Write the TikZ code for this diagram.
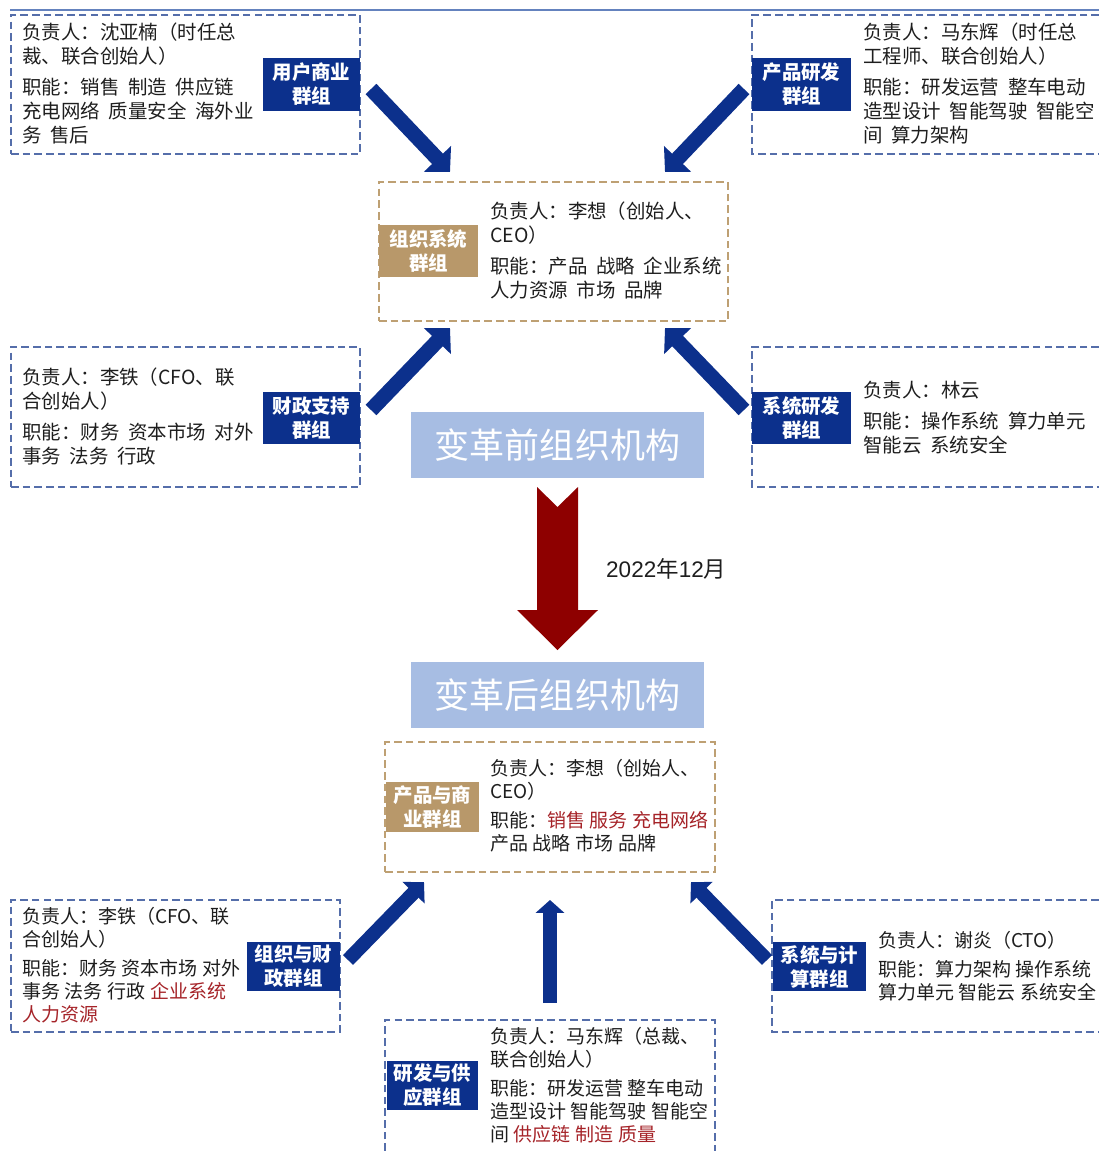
\documentclass[tikz,border=0pt]{standalone}
\usepackage{fontspec}
\setmainfont{Noto Sans CJK SC}[WordSpace=2.0]
\newfontfamily\cjkB{Noto Sans CJK SC}[WordSpace=1.1]
\newfontfamily\latinsans{Liberation Sans}
\usetikzlibrary{arrows.meta}
\definecolor{labelblue}{RGB}{12,48,140}
\definecolor{dashblue}{RGB}{85,110,170}
\definecolor{tanfill}{RGB}{184,152,106}
\definecolor{tandash}{RGB}{190,160,115}
\definecolor{titleblue}{RGB}{167,189,227}
\definecolor{arrowred}{RGB}{142,0,0}
\definecolor{txtred}{RGB}{165,35,40}
\definecolor{lineblue}{RGB}{100,130,190}
\definecolor{txt}{RGB}{30,30,30}
\newcommand\bodyfontA{\fontsize{16.6pt}{20.5pt}\selectfont}
\newcommand\bodyfontB{\cjkB\fontsize{16.2pt}{19.6pt}\selectfont}
\newcommand\hl[1]{\textcolor{txtred}{#1}}
\begin{document}
\begin{tikzpicture}[x=0.03cm, y=-0.03cm,
  bluebox/.style={draw=dashblue, dash pattern=on 6.5pt off 3.5pt, line width=1.1pt, inner sep=0pt},
  tanbox/.style={draw=tandash, dash pattern=on 6.5pt off 3.5pt, line width=1.1pt, inner sep=0pt},
  grouplabel/.style={fill=labelblue, text=white, font=\fontsize{16.6pt}{20.5pt}\selectfont\bfseries, align=center, inner sep=0pt},
  tanlabel/.style={grouplabel, fill=tanfill},
  bodytext/.style={anchor=north west, inner sep=0pt, align=left, font=\bodyfontA, text=txt},
  bodytextB/.style={bodytext, font=\bodyfontB},
  titlebox/.style={fill=titleblue, text=white, minimum width=293*0.03cm, minimum height=66*0.03cm, inner sep=0pt, font=\fontsize{29.9pt}{32pt}\selectfont},
  bigarrow/.style={draw=labelblue, line width=12.8pt, -{Triangle[width=31pt,length=15.5pt]}},
  smallarrow/.style={draw=labelblue, line width=12pt, -{Triangle[width=25.6pt,length=12.8pt]}},
  uparrow/.style={draw=labelblue, line width=12pt, -{Triangle[width=24pt,length=11pt]}}
]
\useasboundingbox (0,0) rectangle (1099,1151);
% top rule
\coordinate (ruleL) at (10,10);
\coordinate (ruleR) at (1099,10);
\draw[lineblue, line width=1.7pt] (ruleL) -- (ruleR);

% ---------- before ----------
\node[bluebox, minimum width=349*0.03cm, minimum height=139*0.03cm] (boxTL) at (185.5,84.5) {};
\draw[bluebox] (1099,15) -| (752,154) -- (1099,154);
\node[tanbox, minimum width=349*0.03cm, minimum height=139*0.03cm] (boxCT) at (553.5,251.5) {};
\node[bluebox, minimum width=349*0.03cm, minimum height=140*0.03cm] (boxML) at (185.5,417) {};
\draw[bluebox] (1099,347) -| (752,487) -- (1099,487);

\node[grouplabel, minimum width=97*0.03cm, minimum height=53*0.03cm] (labTL) at (311.5,84.5) {用户商业\\群组};
\node[grouplabel, minimum width=99*0.03cm, minimum height=53*0.03cm] (labTR) at (801.5,84.5) {产品研发\\群组};
\node[tanlabel, minimum width=99*0.03cm, minimum height=52*0.03cm] (labCT) at (428.5,251) {组织系统\\群组};
\node[grouplabel, minimum width=97*0.03cm, minimum height=52*0.03cm] (labML) at (311.5,418) {财政支持\\群组};
\node[grouplabel, minimum width=99*0.03cm, minimum height=52*0.03cm] (labMR) at (801.5,418) {系统研发\\群组};

\node[bodytext] (txtTL) at (22,23) {负责人：沈亚楠（时任总\\裁、联合创始人）\\[6pt]职能：销售 制造 供应链\\充电网络 质量安全 海外业\\务 售后};
\node[bodytext] (txtTR) at (863,23) {负责人：马东辉（时任总\\工程师、联合创始人）\\[6pt]职能：研发运营 整车电动\\造型设计 智能驾驶 智能空\\间 算力架构};
\node[bodytext] (txtCT) at (490,202) {负责人：李想（创始人、\\CEO）\\[6pt]职能：产品 战略 企业系统\\人力资源 市场 品牌};
\node[bodytext] (txtML) at (22,368) {负责人：李铁（CFO、联\\合创始人）\\[6pt]职能：财务 资本市场 对外\\事务 法务 行政};
\node[bodytext] (txtMR) at (863,381) {负责人：林云\\[6pt]职能：操作系统 算力单元\\智能云 系统安全};

\coordinate (aTLs) at (371,89);  \coordinate (aTLe) at (450,172);
\coordinate (aTRs) at (744,89);  \coordinate (aTRe) at (665,172);
\coordinate (aMLs) at (371,410); \coordinate (aMLe) at (450,328);
\coordinate (aMRs) at (744,410); \coordinate (aMRe) at (665,328);
\draw[bigarrow] (aTLs) -- (aTLe);
\draw[bigarrow] (aTRs) -- (aTRe);
\draw[bigarrow] (aMLs) -- (aMLe);
\draw[bigarrow] (aMRs) -- (aMRe);

\node[titlebox] (before) at (557.5,445) {变革前组织机构};

% ---------- transition ----------
\fill[arrowred] (537,487) -- (557.5,507) -- (578,487) -- (578,610) -- (598,610) -- (557.5,650) -- (517,610) -- (537,610) -- cycle;
\node[anchor=west, inner sep=0pt, text=txt, font=\fontsize{19.2pt}{22pt}\selectfont] (date) at (606,569) {{\latinsans 2022}年{\latinsans 12}月};

\node[titlebox] (after) at (557.5,695) {变革后组织机构};

% ---------- after ----------
\node[tanbox, minimum width=330*0.03cm, minimum height=130*0.03cm] (boxBC) at (550,807) {};
\node[bluebox, minimum width=329*0.03cm, minimum height=132*0.03cm] (boxBL) at (175.5,966) {};
\draw[bluebox] (1099,900) -| (772,1032) -- (1099,1032);
\draw[bluebox] (385,1151) |- (715,1020) -- (715,1151);

\node[tanlabel, minimum width=93*0.03cm, minimum height=50*0.03cm] (labBC) at (432.5,807) {产品与商\\业群组};
\node[grouplabel, minimum width=93*0.03cm, minimum height=49*0.03cm] (labBL) at (293.5,966.5) {组织与财\\政群组};
\node[grouplabel, minimum width=93*0.03cm, minimum height=49*0.03cm] (labBR) at (819.5,966.5) {系统与计\\算群组};
\node[grouplabel, minimum width=91*0.03cm, minimum height=49*0.03cm] (labBB) at (432.5,1085.5) {研发与供\\应群组};

\node[bodytextB] (txtBC) at (490,759) {负责人：李想（创始人、\\CEO）\\[5pt]职能：\hl{销售 服务 充电网络}\\产品 战略 市场 品牌};
\node[bodytextB] (txtBL) at (22,907) {负责人：李铁（CFO、联\\合创始人）\\[5pt]职能：财务 资本市场 对外\\事务 法务 行政 \hl{企业系统}\\\hl{人力资源}};
\node[bodytextB] (txtBR) at (878,931) {负责人：谢炎（CTO）\\[5pt]职能：算力架构 操作系统\\算力单元 智能云 系统安全};
\node[bodytextB] (txtBB) at (490,1027) {负责人：马东辉（总裁、\\联合创始人）\\[5pt]职能：研发运营 整车电动\\造型设计 智能驾驶 智能空\\间 \hl{供应链 制造 质量}};

\coordinate (aBLs) at (348,960); \coordinate (aBLe) at (424,882);
\coordinate (aBRs) at (767,960); \coordinate (aBRe) at (691,882);
\coordinate (aUs) at (550,1003); \coordinate (aUe) at (550,900);
\draw[smallarrow] (aBLs) -- (aBLe);
\draw[smallarrow] (aBRs) -- (aBRe);
\draw[uparrow] (aUs) -- (aUe);
\end{tikzpicture}
\end{document}
